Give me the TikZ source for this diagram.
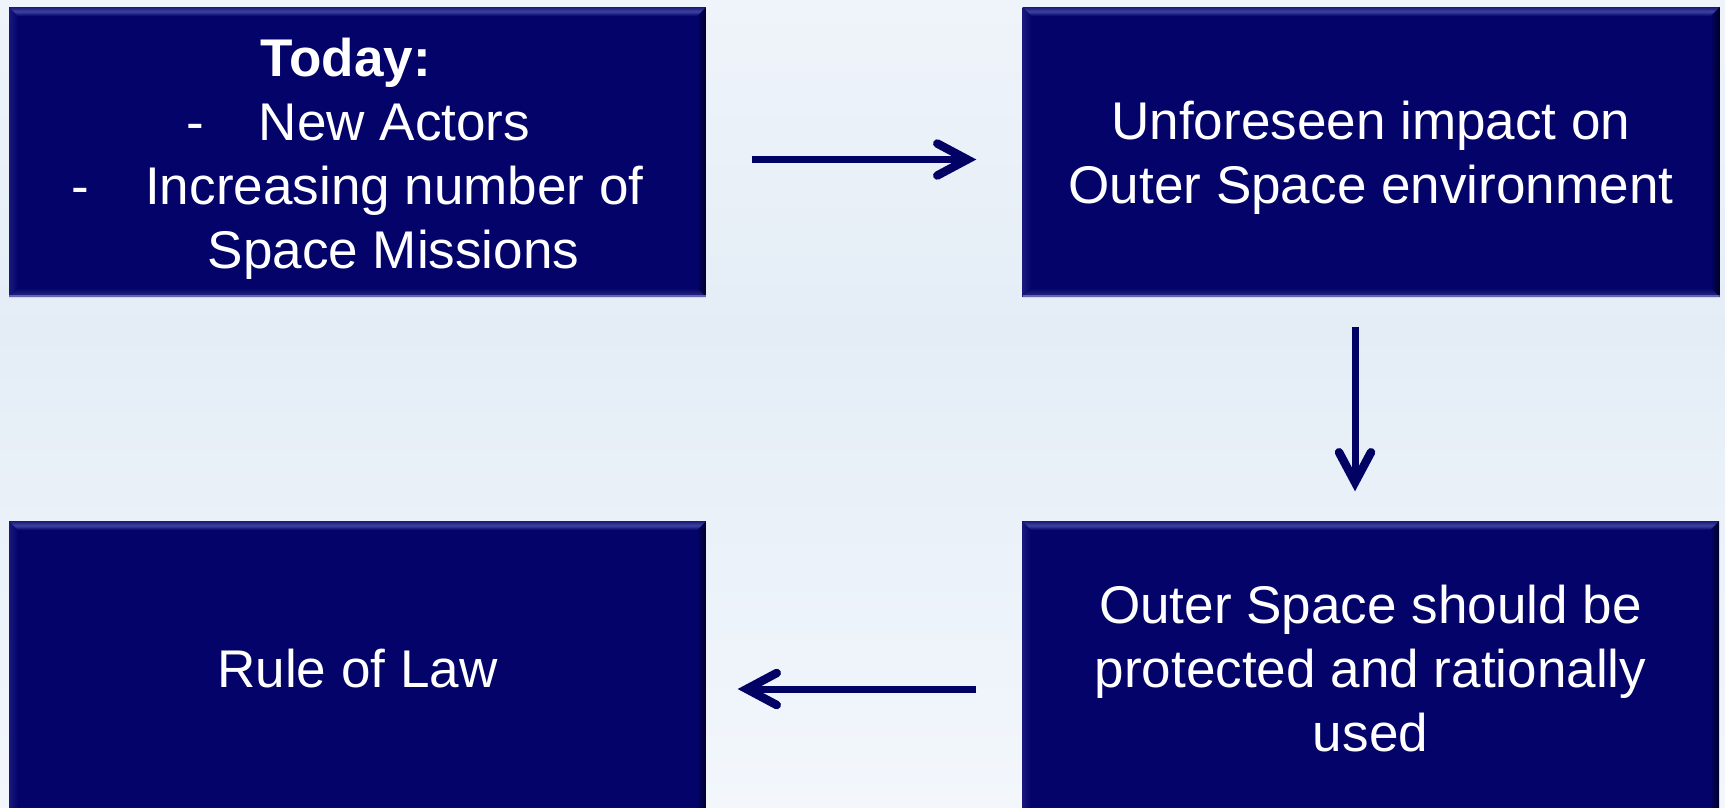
\documentclass[tikz,border=0pt]{standalone}
\usepackage{fontspec}
\setmainfont{Liberation Sans}
\usetikzlibrary{arrows.meta,calc}
\definecolor{navy}{RGB}{3,3,105}
\definecolor{arrcol}{RGB}{2,2,100}
\definecolor{bgtop}{RGB}{239,244,250}
\definecolor{bgmid}{RGB}{228,237,246}
\definecolor{bgbot}{RGB}{243,247,252}
\definecolor{bvtopout}{RGB}{25,25,120}
\definecolor{bvtophi}{RGB}{62,66,162}
\definecolor{bvbot}{RGB}{44,44,130}
\definecolor{bvline}{RGB}{100,100,178}
\definecolor{bvright}{RGB}{0,0,38}
\definecolor{bvleft}{RGB}{24,24,125}
\newcommand\boxfont{\fontsize{15.1pt}{18.2pt}\selectfont}
\tikzset{
  bevelbox/.style={rectangle, inner sep=0pt, minimum width=69.7mm, minimum height=29mm,
    fill=navy, text=white, font=\boxfont, align=center, text depth=0pt,
    path picture={
      \path (path picture bounding box.north west) coordinate (@nw)
            (path picture bounding box.north east) coordinate (@ne)
            (path picture bounding box.south west) coordinate (@sw)
            (path picture bounding box.south east) coordinate (@se);
      \shade[left color=bvleft, right color=navy]
        (@nw) -- (@sw) -- ([shift={(0.9mm,0.9mm)}]@sw) -- ([shift={(0.9mm,-0.9mm)}]@nw) -- cycle;
      \shade[left color=navy, right color=bvright]
        (@ne) -- (@se) -- ([shift={(-0.9mm,0.9mm)}]@se) -- ([shift={(-0.9mm,-0.9mm)}]@ne) -- cycle;
      \shade[top color=bvtopout, bottom color=navy, middle color=bvtophi]
        (@nw) -- (@ne) -- ([shift={(-0.9mm,-0.9mm)}]@ne) -- ([shift={(0.9mm,-0.9mm)}]@nw) -- cycle;
      \shade[top color=navy, bottom color=bvbot]
        (@sw) -- (@se) -- ([shift={(-0.9mm,0.9mm)}]@se) -- ([shift={(0.9mm,0.9mm)}]@sw) -- cycle;
      \draw[bvline, line width=0.25mm] ([yshift=0.1mm]@sw) -- ([yshift=0.1mm]@se);
    }},
  tltext/.style={text=white, font=\boxfont},
  arr/.style={draw=arrcol, line width=0.7mm,
    -{Straight Barb[length=3mm, width=3.2mm, line width=0.85mm, line cap=round, line join=miter]}}
}
\begin{document}
\begin{tikzpicture}[x=0.1mm,y=-0.1mm]
\useasboundingbox (0,0) rectangle (1725,807);
\shade[top color=bgtop, bottom color=bgmid] (0,0) rectangle (1725,330);
\shade[top color=bgmid, bottom color=bgbot] (0,330) rectangle (1725,807);

\node[bevelbox] (tl) at (357.5,152) {};
\node[bevelbox] (tr) at (1371,152) {Unforeseen impact on\\Outer Space environment};
\node[bevelbox, minimum height=29.4mm] (bl) at (357.5,668) {Rule of Law};
\node[bevelbox, minimum height=29.4mm] (br) at (1370.5,668) {Outer Space should be\\protected and rationally\\used};

\node[tltext, font=\boxfont\bfseries, anchor=base] (today) at (346,76) {Today:};
\node[tltext, anchor=base] (d1) at (195.5,140) {-};
\node[tltext, anchor=base] (a1) at (394.5,140) {New Actors};
\node[tltext, anchor=base] (d2) at (80.5,204) {-};
\node[tltext, anchor=base] (a2) at (394.5,204) {Increasing number of};
\node[tltext, anchor=base] (a3) at (393.5,268) {Space Missions};

\draw[arr, shorten <=4.5mm, shorten >=4.55mm] ([yshift=-0.75mm]tl.east) -- ([yshift=-0.75mm]tr.west);
\draw[arr, shorten <=2.9mm, shorten >=2.9mm] ([xshift=-1.6mm]tr.south) coordinate (dtop) -- (dtop |- br.north);
\draw[arr, shorten <=4.5mm, shorten >=3.1mm] ([yshift=-2.1mm]br.west) -- ([yshift=-2.1mm]bl.east);
\end{tikzpicture}
\end{document}
